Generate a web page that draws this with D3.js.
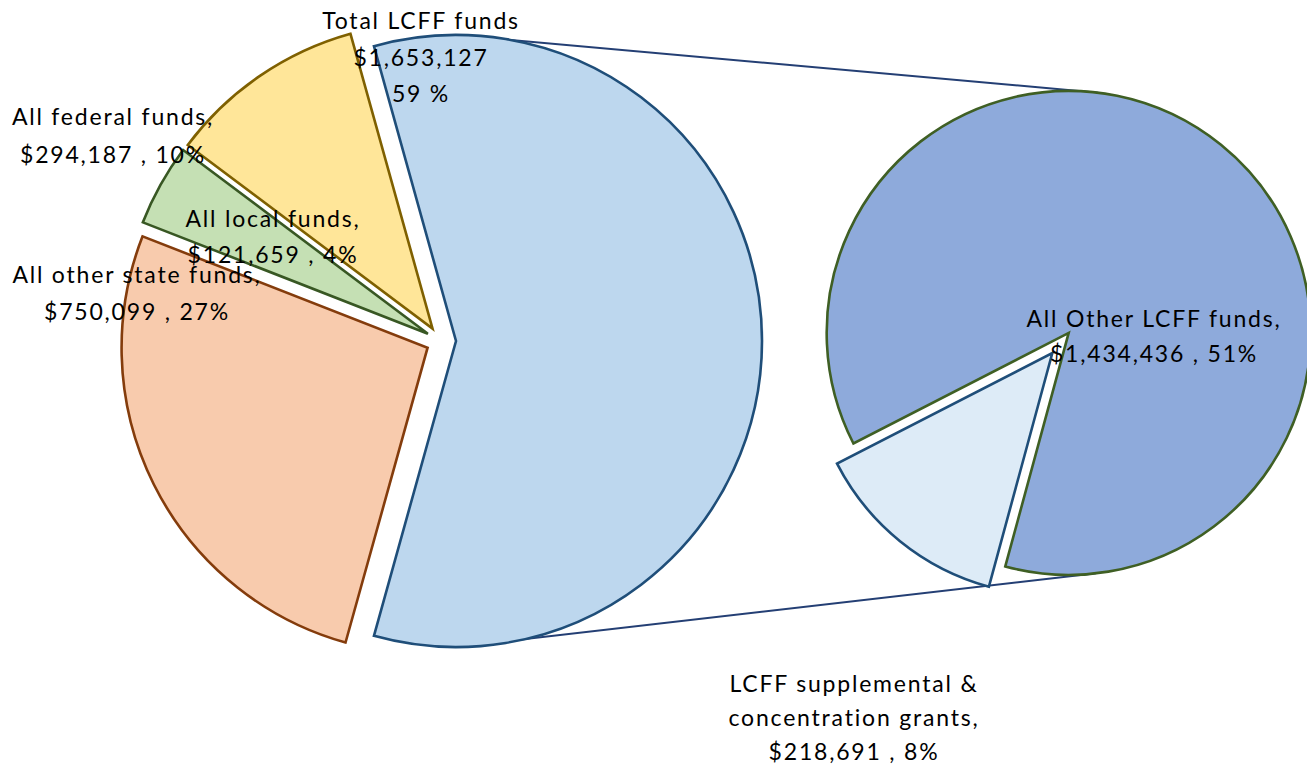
<!DOCTYPE html>
<html>
<head>
<meta charset="utf-8">
<script src="https://cdn.jsdelivr.net/npm/d3@7"></script>
<style>
  body { margin: 0; background: #fff; }
  svg { display: block; }
  text { font-family: Lato, "Open Sans", sans-serif; fill: #000; }
</style>
</head>
<body>
<svg width="1307" height="767"></svg>
<script>
// ---- data ----
var mainLabels = ["Total LCFF funds", "All other state funds", "All local funds", "All federal funds"];
var mainValues = [1653127, 750099, 121659, 294187];
var subLabels = ["All Other LCFF funds", "LCFF supplemental & concentration grants"];
var subValues = [1434436, 218691];

var mainFill = ["#bdd7ee", "#f8cbad", "#c5e0b4", "#ffe699"];
var mainStroke = ["#1f4e79", "#843c0c", "#385723", "#7f6000"];
var subFill = ["#8eaadb", "#ddebf7"];
var subStroke = ["#3f5f24", "#1f4e79"];

var svg = d3.select('svg');
var width = 1307, height = 767;

var total = d3.sum(mainValues);
var fmt = d3.format("$,");
var pct = function (v) { return Math.round(v / total * 100); };

// geometry
var mainC = { x: 441, y: 341, r: 306, explode: 15 };
var subC = { x: 1060.5, y: 343, r: 242, explode: 13 };
var deg = Math.PI / 180;

// first slice (LCFF) centred pointing right
var lcffAngle = mainValues[0] / total * 2 * Math.PI;
var mainPie = d3.pie().sort(null)
  .startAngle(Math.PI / 2 - lcffAngle / 2)
  .endAngle(Math.PI / 2 - lcffAngle / 2 + 2 * Math.PI);

// small slice of second pie centred at lower left
var subTotal = d3.sum(subValues);
var smallAngle = subValues[1] / subTotal * 2 * Math.PI;
var subStart = 219 * deg + smallAngle / 2;
var subPie = d3.pie().sort(null)
  .startAngle(subStart)
  .endAngle(subStart + 2 * Math.PI);

function offset(d, e) {
  var mid = (d.startAngle + d.endAngle) / 2;
  return [e * Math.sin(mid), -e * Math.cos(mid)];
}

//////////// connector lines ////////////
var lcff = mainPie(mainValues)[0];
var lo = offset(lcff, mainC.explode);
var subArcs = subPie(subValues);
var so = offset(subArcs[0], subC.explode);
var connectors = [
  [[mainC.x + lo[0], mainC.y + lo[1] - mainC.r], [subC.x + so[0] + subC.r * Math.sin(7 * deg), subC.y + so[1] - subC.r * Math.cos(7 * deg)]],
  [[mainC.x + lo[0], mainC.y + lo[1] + mainC.r], [subC.x + so[0] + subC.r * Math.sin(173.5 * deg), subC.y + so[1] - subC.r * Math.cos(173.5 * deg)]]
];
svg.append('g')
  .selectAll('line')
  .data(connectors)
  .enter()
  .append('line')
  .attr('x1', function (d) { return d[0][0]; })
  .attr('y1', function (d) { return d[0][1]; })
  .attr('x2', function (d) { return d[1][0]; })
  .attr('y2', function (d) { return d[1][1]; })
  .attr('stroke', '#243f74')
  .attr('stroke-width', 2);

//////////// pies ////////////
var mainArc = d3.arc().innerRadius(0).outerRadius(mainC.r);
svg.append('g')
  .attr('transform', 'translate(' + mainC.x + ',' + mainC.y + ')')
  .selectAll('path')
  .data(mainPie(mainValues))
  .enter()
  .append('path')
  .attr('transform', function (d) { return 'translate(' + offset(d, mainC.explode) + ')'; })
  .attr('d', mainArc)
  .attr('fill', function (d, i) { return mainFill[i]; })
  .attr('stroke', function (d, i) { return mainStroke[i]; })
  .attr('stroke-width', 2.6)
  .attr('stroke-linejoin', 'miter');

var subArc = d3.arc().innerRadius(0).outerRadius(subC.r);
svg.append('g')
  .attr('transform', 'translate(' + subC.x + ',' + subC.y + ')')
  .selectAll('path')
  .data(subArcs)
  .enter()
  .append('path')
  .attr('transform', function (d) { return 'translate(' + offset(d, subC.explode) + ')'; })
  .attr('d', subArc)
  .attr('fill', function (d, i) { return subFill[i]; })
  .attr('stroke', function (d, i) { return subStroke[i]; })
  .attr('stroke-width', 2.6);

//////////// labels ////////////
var labels = [
  { lines: [mainLabels[0], fmt(mainValues[0]), pct(mainValues[0]) + " %"], x: 421, y: 29, step: 36.5 },
  { lines: [mainLabels[3] + ",", fmt(mainValues[3]) + " , " + pct(mainValues[3]) + "%"], x: 113, y: 125, step: 37.5 },
  { lines: [mainLabels[2] + ",", fmt(mainValues[2]) + " , " + pct(mainValues[2]) + "%"], x: 273, y: 227, step: 36 },
  { lines: [mainLabels[1] + ",", fmt(mainValues[1]) + " , " + pct(mainValues[1]) + "%"], x: 137, y: 283, step: 37 },
  { lines: [subLabels[0] + ",", fmt(subValues[0]) + " , " + pct(subValues[0]) + "%"], x: 1154, y: 327, step: 35 },
  { lines: ["LCFF supplemental &", "concentration grants,", fmt(subValues[1]) + " , " + pct(subValues[1]) + "%"], x: 854, y: 692, step: 34 }
];

var lab = svg.append('g')
  .selectAll('text')
  .data(labels)
  .enter()
  .append('text')
  .attr('text-anchor', 'middle')
  .style('font-size', '23px')
  .style('letter-spacing', '1.8px');
lab.selectAll('tspan')
  .data(function (d) { return d.lines.map(function (t, i) { return { t: t, x: d.x, y: d.y + i * d.step }; }); })
  .enter()
  .append('tspan')
  .attr('x', function (d) { return d.x; })
  .attr('y', function (d) { return d.y; })
  .text(function (d) { return d.t; });
</script>
</body>
</html>
